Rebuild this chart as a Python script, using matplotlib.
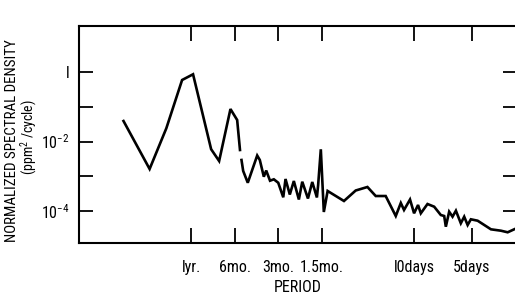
import matplotlib
matplotlib.use("Agg")
import matplotlib.pyplot as plt
from matplotlib import font_manager

# frequency in cycles per year, normalized spectral density (ppm^2/cycle)
freq_low = [0.338, 0.513, 0.670, 0.862, 1.027, 1.371, 1.558, 1.867, 2.078, 2.174]
psd_low = [0.0389, 0.00162, 0.024, 0.589, 0.86, 0.006, 0.00275, 0.086, 0.0416, 0.0057]

freq_high = [2.227, 2.288, 2.462, 2.862, 2.984, 3.182, 3.306, 3.513, 3.734, 4.006,
             4.34, 4.50, 4.82, 5.14, 5.57, 5.88, 6.44, 6.90, 7.43, 7.58,
             7.91, 8.30, 8.82, 11.45, 13.81, 16.66, 19.02, 22.3, 26.2, 28.4,
             29.9, 32.9, 35.1, 37.4, 39.1, 43.5, 48.4, 53.8, 56.8, 58.3,
             61.5, 64.9, 68.5, 74.1, 78.2, 82.6, 87.0, 96.9, 119.9, 140.7,
             156.6, 178.9]
psd_high = [0.00294, 0.00142, 0.00065, 0.00395, 0.00294, 0.00097, 0.00146, 0.000745, 0.000817, 0.00065,
            0.000248, 0.000834, 0.000298, 0.00073, 0.000214, 0.000697, 0.000229, 0.000684, 0.000245, 0.00056,
            0.00597, 0.0000936, 0.000377, 0.000194, 0.000389, 0.000491, 0.00027, 0.00027, 0.0000718, 0.00017,
            0.000107, 0.000214, 0.0000859, 0.000149, 0.0000859, 0.000159, 0.000133, 0.0000767, 0.0000718, 0.0000353,
            0.0000955, 0.0000686, 0.000102, 0.0000443, 0.0000686, 0.0000395, 0.0000577, 0.0000526, 0.0000297, 0.0000271,
            0.0000244, 0.0000314]

period_ticks = [1, 2, 4, 8, 35.0, 88.0]
period_labels = ["lyr.", "6mo.", "3mo.", "1.5mo.", "l0days", "5days"]
ytick_vals = [1, 1e-1, 1e-2, 1e-3, 1e-4]
ytick_labels = ["l", "", r"$10^{-2}$", "", r"$10^{-4}$"]

names = {f.name for f in font_manager.fontManager.ttflist}
fam = "DejaVu Sans"
for cand in ["Liberation Sans Narrow", "Roboto Condensed", "Open Sans Condensed"]:
    if cand in names:
        fam = cand
        break
plt.rcParams["font.family"] = [fam, "DejaVu Sans"]
plt.rcParams["font.stretch"] = "condensed"
plt.rcParams["mathtext.fontset"] = "custom"
plt.rcParams["mathtext.rm"] = fam
plt.rcParams["mathtext.it"] = fam

fig = plt.figure(figsize=(5.15, 2.99), dpi=100)
ax = fig.add_axes([79 / 515, 56 / 299, 438 / 515, 217 / 299])

ax.plot(freq_low, psd_low, color="black", lw=1.9, solid_joinstyle="miter")
ax.plot(freq_high, psd_high, color="black", lw=1.9, solid_joinstyle="miter")

ax.set_xscale("log")
ax.set_yscale("log")
ax.set_xlim(0.166, 181.8)
ax.set_ylim(1.2e-5, 21.1)

ax.minorticks_off()
ax.set_xticks(period_ticks)
ax.set_xticklabels(period_labels, fontsize=11.5)
ax.set_yticks(ytick_vals)
ax.set_yticklabels(ytick_labels, fontsize=11.5)
ax.tick_params(axis="x", direction="in", length=11, width=1.3, top=True, pad=12)
ax.tick_params(axis="y", direction="in", length=10, width=1.3, right=True, pad=7)

for s in ax.spines.values():
    s.set_linewidth(1.5)

ax.set_xlabel("PERIOD", fontsize=11.5, labelpad=4)
fig.text(0.024, 0.53, "NORMALIZED SPECTRAL DENSITY", rotation=90,
         ha="center", va="center", fontsize=10.8)
fig.text(0.056, 0.54, "(ppm$^2$ /cycle)", rotation=90,
         ha="center", va="center", fontsize=10)

fig.savefig("out.png", dpi=100)
